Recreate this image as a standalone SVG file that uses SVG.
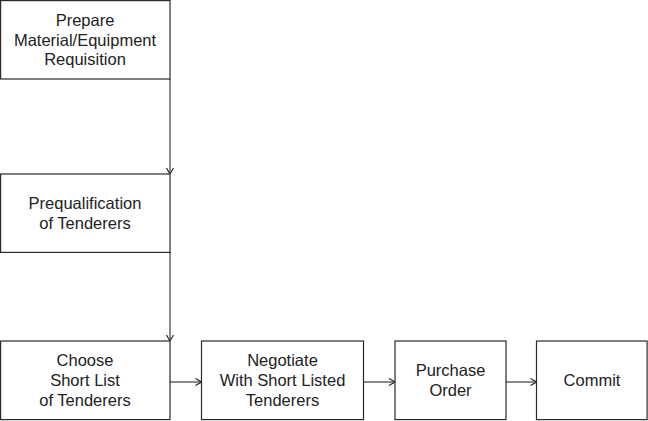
<svg xmlns="http://www.w3.org/2000/svg" width="648" height="421" viewBox="0 0 648 421">
<defs>
<style>
.box{fill:#fff;stroke:#2a2a2a;stroke-width:1.2}
.t{font-family:"Liberation Sans",Arial,sans-serif;font-size:16.5px;fill:#222;text-anchor:middle}
.c{fill:none;stroke:#2a2a2a;stroke-width:1.1}
</style>
<marker id="ah" viewBox="0 0 10 10" refX="10" refY="5" markerWidth="10" markerHeight="10" markerUnits="userSpaceOnUse" orient="auto">
<path d="M4,1.5 L10,5 L4,8.5" fill="none" stroke="#2a2a2a" stroke-width="1.2"/>
</marker>
</defs>
<rect width="648" height="421" fill="#fff"/>
<g id="connectors">
<path class="c" d="M170,79 L170,174" marker-end="url(#ah)"/>
<path class="c" d="M170,252 L170,341" marker-end="url(#ah)"/>
<path class="c" d="M170,382 L201.5,382" marker-end="url(#ah)"/>
<path class="c" d="M363.5,382 L395,382" marker-end="url(#ah)"/>
<path class="c" d="M506,382 L536.5,382" marker-end="url(#ah)"/>
</g>
<g id="n1">
<rect class="box" x="0.6" y="0.6" width="169.4" height="78.4"/>
<text class="t" x="85" y="26">Prepare</text>
<text class="t" x="85" y="45.5">Material/Equipment</text>
<text class="t" x="85" y="65">Requisition</text>
</g>
<g id="n2">
<rect class="box" x="0.6" y="174" width="169.4" height="78.4"/>
<text class="t" x="85" y="209">Prequalification</text>
<text class="t" x="85" y="228.5">of Tenderers</text>
</g>
<g id="n3">
<rect class="box" x="0.6" y="341" width="169.4" height="78.6"/>
<text class="t" x="85" y="366">Choose</text>
<text class="t" x="85" y="386">Short List</text>
<text class="t" x="85" y="406">of Tenderers</text>
</g>
<g id="n4">
<rect class="box" x="201.5" y="341" width="162" height="78.6"/>
<text class="t" x="282.5" y="366">Negotiate</text>
<text class="t" x="282.5" y="386">With Short Listed</text>
<text class="t" x="282.5" y="406">Tenderers</text>
</g>
<g id="n5">
<rect class="box" x="395" y="341" width="111" height="78.6"/>
<text class="t" x="450.5" y="376">Purchase</text>
<text class="t" x="450.5" y="396">Order</text>
</g>
<g id="n6">
<rect class="box" x="536.5" y="341" width="110.6" height="78.6"/>
<text class="t" x="592" y="386">Commit</text>
</g>
</svg>
